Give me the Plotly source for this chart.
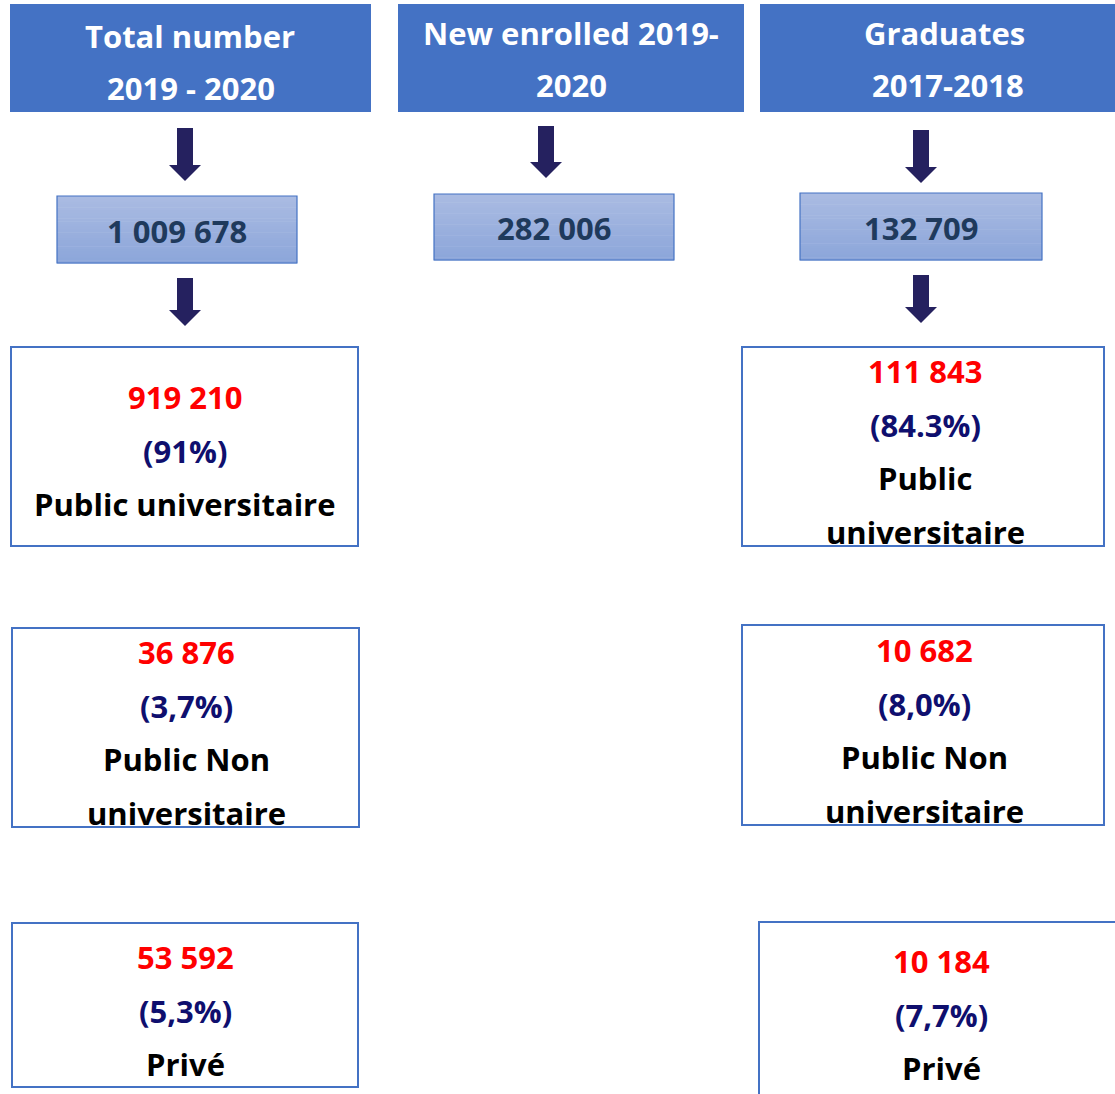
import plotly.graph_objects as go

# ---------------- data ----------------
headers = [["Total number", "2019 - 2020"],
           ["New enrolled 2019-", "2020"],
           ["Graduates", "2017-2018"]]
totals = [1009678, 282006, 132709]

total_values = [919210, 36876, 53592]
total_pcts = ["(91%)", "(3,7%)", "(5,3%)"]
total_labels = [["Public universitaire"],
                ["Public Non", "universitaire"],
                ["Privé"]]

grad_values = [111843, 10682, 10184]
grad_pcts = ["(84.3%)", "(8,0%)", "(7,7%)"]
grad_labels = [["Public", "universitaire"],
               ["Public Non", "universitaire"],
               ["Privé"]]

# ---------------- layout / style ----------------
W, H = 1115, 1094
FONT = "Open Sans"
BLUE = "#4472C4"
NAVY_ARROW = "#25215F"
RED = "#FF0000"
NAVY_TXT = "#0F0F6E"
DARK_TXT = "#1F3A5C"
FS = 31

fig = go.Figure()
shapes = []
annotations = []


def fmt(n):
    return f"{n:,}".replace(",", " ")


def text(x, y, s, color, size=FS):
    annotations.append(dict(x=x, y=y, xref="x", yref="y", text=f"<b>{s}</b>",
                            showarrow=False, xanchor="center", yanchor="middle",
                            font=dict(family=FONT, size=size, color=color)))


def arrow(cx, top, tip):
    hs = tip - 16
    path = (f"M {cx-8},{top} L {cx+8},{top} L {cx+8},{hs} L {cx+16},{hs} "
            f"L {cx},{tip} L {cx-16},{hs} L {cx-8},{hs} Z")
    shapes.append(dict(type="path", path=path, xref="x", yref="y",
                       fillcolor=NAVY_ARROW, line=dict(width=0)))


def grad_box(x0, y0, x1, y1):
    n = 24
    c0 = (0xAA, 0xBB, 0xE2)
    c1 = (0x8C, 0xA6, 0xDA)
    for i in range(n):
        t = i / (n - 1)
        c = tuple(int(round(a + (b - a) * t)) for a, b in zip(c0, c1))
        ya = y0 + (y1 - y0) * i / n
        yb = y0 + (y1 - y0) * (i + 1) / n
        shapes.append(dict(type="rect", xref="x", yref="y", x0=x0, x1=x1,
                           y0=ya, y1=yb + 0.5, line=dict(width=0),
                           fillcolor="rgb(%d,%d,%d)" % c, layer="below"))
    shapes.append(dict(type="rect", xref="x", yref="y", x0=x0, x1=x1, y0=y0, y1=y1,
                       line=dict(color=BLUE, width=1.2), fillcolor="rgba(0,0,0,0)"))


# header boxes
header_boxes = [(10, 4, 371, 112), (398, 4, 744, 112), (760, 4, 1120, 112)]
header_lines_y = [(36, 88), (33, 85), (33, 85)]
header_cx = [[190, 191], [571, 571], [944, 948]]
for (x0, y0, x1, y1), lines, ys, cxs in zip(header_boxes, headers, header_lines_y, header_cx):
    shapes.append(dict(type="rect", xref="x", yref="y", x0=x0, x1=x1, y0=y0, y1=y1,
                       fillcolor=BLUE, line=dict(width=0), layer="below"))
    for s, yy, cx in zip(lines, ys, cxs):
        text(cx, yy, s, "white")

# arrows
arrow(185, 128, 181)
arrow(546, 126, 178)
arrow(921, 130, 183)
arrow(185, 278, 326)
arrow(921, 275, 323)

# totals boxes
tot_boxes = [(57, 196, 297, 263), (434, 194, 674, 260), (800, 193, 1042, 260)]
for (x0, y0, x1, y1), v in zip(tot_boxes, totals):
    grad_box(x0, y0, x1, y1)
    text((x0 + x1) / 2, (y0 + y1) / 2 + 1, fmt(v), DARK_TXT)

# breakdown boxes
left_boxes = [(11, 347, 358, 546), (12, 628, 359, 827), (12, 923, 358, 1087)]
left_first_y = [397, 652, 957]
left_cx = [185, 186, 185]
right_boxes = [(742, 347, 1104, 546), (742, 625, 1104, 825), (759, 922, 1125, 1110)]
right_first_y = [371, 650, 961]
right_cx = [925, 924, 941]
LS = 53.5

for boxes, first_y, cxs, vals, pcts, labs in [
        (left_boxes, left_first_y, left_cx, total_values, total_pcts, total_labels),
        (right_boxes, right_first_y, right_cx, grad_values, grad_pcts, grad_labels)]:
    for (x0, y0, x1, y1), fy, cx, v, p, lab in zip(boxes, first_y, cxs, vals, pcts, labs):
        shapes.append(dict(type="rect", xref="x", yref="y", x0=x0, x1=x1, y0=y0, y1=y1,
                           fillcolor="white", line=dict(color=BLUE, width=2), layer="below"))
        text(cx, fy, fmt(v), RED)
        text(cx, fy + LS, p, NAVY_TXT)
        for k, s in enumerate(lab):
            text(cx, fy + LS * (2 + k), s, "black")

# invisible trace to anchor axes
fig.add_trace(go.Scatter(x=[0, W], y=[0, H], mode="markers",
                         marker=dict(opacity=0), hoverinfo="skip", showlegend=False))

fig.update_layout(
    width=W, height=H, margin=dict(l=0, r=0, t=0, b=0),
    paper_bgcolor="white", plot_bgcolor="white",
    shapes=shapes, annotations=annotations, showlegend=False,
    xaxis=dict(range=[0, W], visible=False, fixedrange=True),
    yaxis=dict(range=[H, 0], visible=False, fixedrange=True),
)
fig.write_html(
    "out.html",
    config={"displayModeBar": False},
    post_script="document.body.style.margin='0px';document.body.style.overflow='hidden';",
)
